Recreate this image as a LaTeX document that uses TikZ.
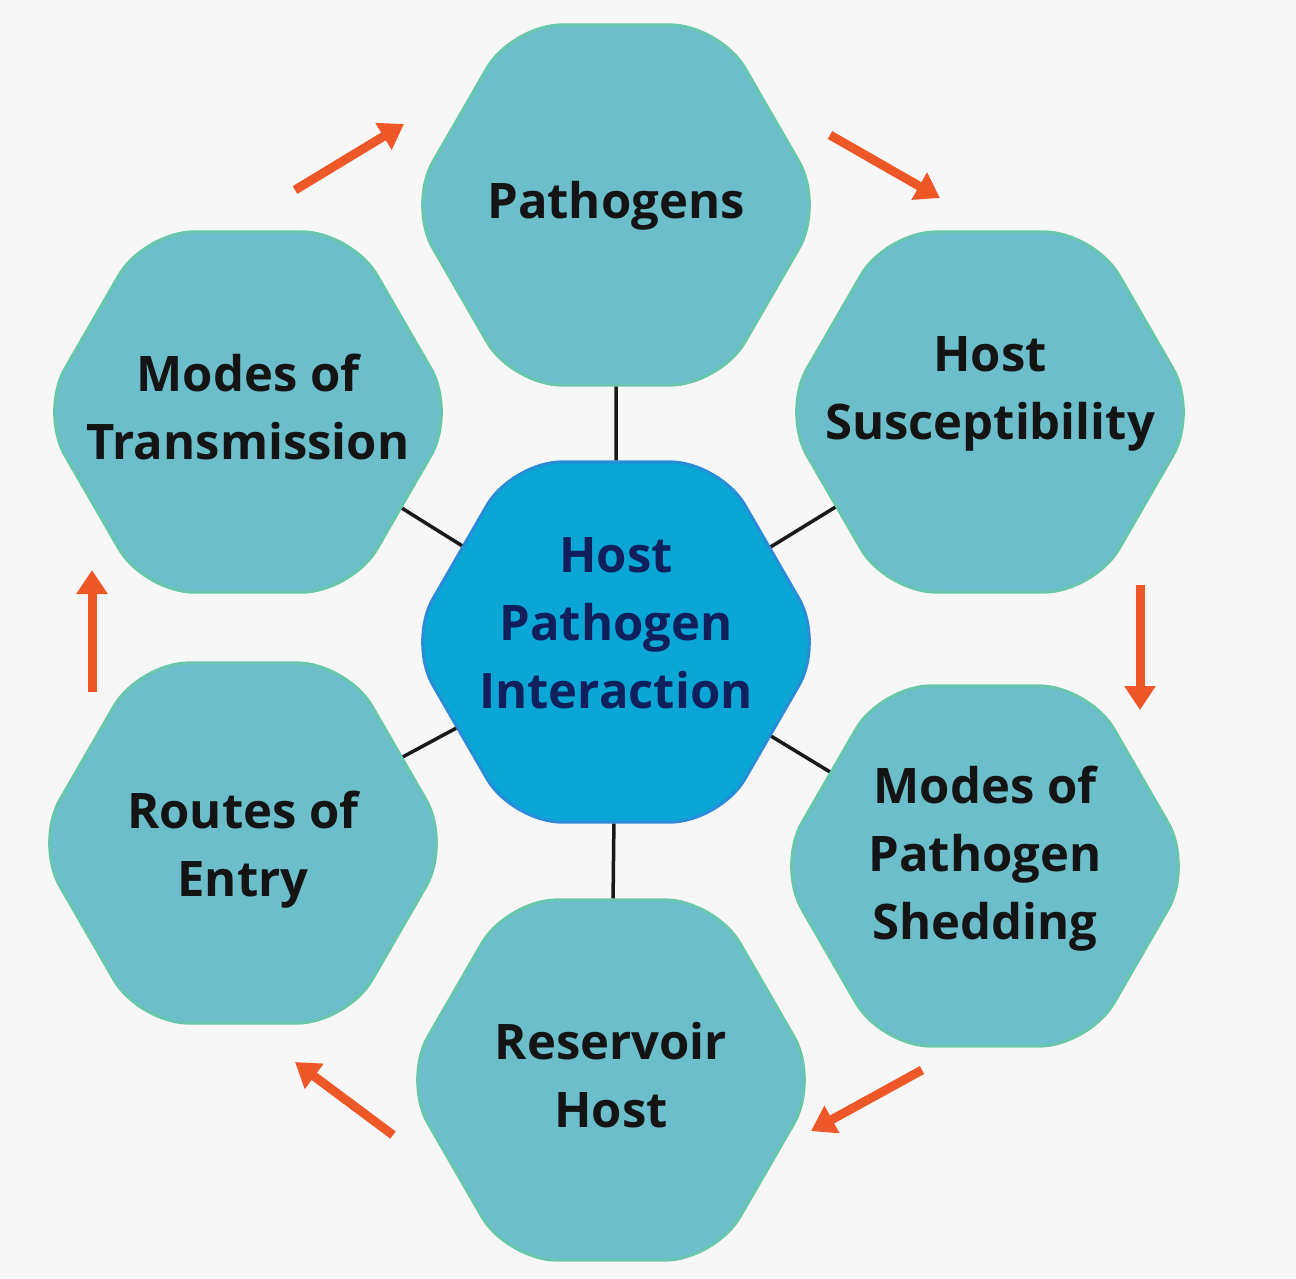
\documentclass[tikz,border=0pt]{standalone}
\usepackage{fontspec}
\setmainfont{Open Sans}
\usepackage{xcolor}
\definecolor{bgpaper}{RGB}{247,247,247}
\definecolor{hexfill}{RGB}{107,190,202}
\definecolor{hexrim}{RGB}{104,198,172}
\definecolor{corefill}{RGB}{10,166,214}
\definecolor{corerim}{RGB}{40,140,215}
\definecolor{coretext}{RGB}{16,32,92}
\definecolor{cyclearrow}{RGB}{238,88,40}
\usetikzlibrary{shapes.geometric,arrows.meta}
% text block of a hexagon, lifted by #1 from the centre
\newcommand{\hexlabel}[2]{\raisebox{0pt}[\dimexpr\height-#1\relax][\dimexpr\depth+#1\relax]{\begin{tabular}{@{}c@{}}#2\end{tabular}}}

\begin{document}
\begin{tikzpicture}[x=1pt, y=-1pt,
    hexbox/.style={regular polygon, regular polygon sides=6, minimum size=416pt,
        inner sep=-60pt, rounded corners=50pt, fill=hexfill, draw=hexrim,
        line width=3pt, text=black!92,
        font=\fontsize{49}{68}\selectfont\bfseries},
    corebox/.style={hexbox, fill=corefill, draw=corerim, text=coretext},
    spoke/.style={line width=3.5pt, black!90},
    cycle/.style={line width=9pt, cyclearrow,
        -{Triangle[length=24pt, width=30pt]}}]
    % background and page size
    \fill[bgpaper] (0,0) rectangle (1296,1278);
    \useasboundingbox (0,0) rectangle (1296,1278);
    % centre hexagon
    \node[corebox] (hpi) at (616,642) {\hexlabel{15pt}{Host\\Pathogen\\Interaction}};
    % outer ring of hexagons
    \node[hexbox] (pathogens) at (616,205) {\hexlabel{0pt}{Pathogens}};
    \node[hexbox] (suscept) at (990,412) {\hexlabel{20pt}{Host\\Susceptibility}};
    \node[hexbox] (shedding) at (985,866) {\hexlabel{8pt}{Modes of\\Pathogen\\Shedding}};
    \node[hexbox] (reservoir) at (611,1080) {\hexlabel{0pt}{Reservoir\\Host}};
    \node[hexbox] (entry) at (243,843) {\hexlabel{-6pt}{Routes of\\Entry}};
    \node[hexbox] (transmit) at (248,412) {\hexlabel{0pt}{Modes of\\Transmission}};
    % spokes from the centre
    \foreach \outer in {pathogens,suscept,shedding,reservoir,entry,transmit}
        \draw[spoke] (hpi) -- (\outer);
    % end points of the cycle arrows
    \coordinate (a1s) at (295,190);  \coordinate (a1e) at (404,124);
    \coordinate (a2s) at (830,135);  \coordinate (a2e) at (940,198);
    \coordinate (a3s) at (1140,585); \coordinate (a3e) at (1140,710);
    \coordinate (a4s) at (922,1070); \coordinate (a4e) at (811,1131);
    \coordinate (a5s) at (393,1135); \coordinate (a5e) at (295,1062);
    \coordinate (a6s) at (92,692);   \coordinate (a6e) at (92,570);
    % cycle arrows
    \foreach \arr in {a1,a2,a3,a4,a5,a6}
        \draw[cycle] (\arr s) -- (\arr e);
\end{tikzpicture}
\end{document}
